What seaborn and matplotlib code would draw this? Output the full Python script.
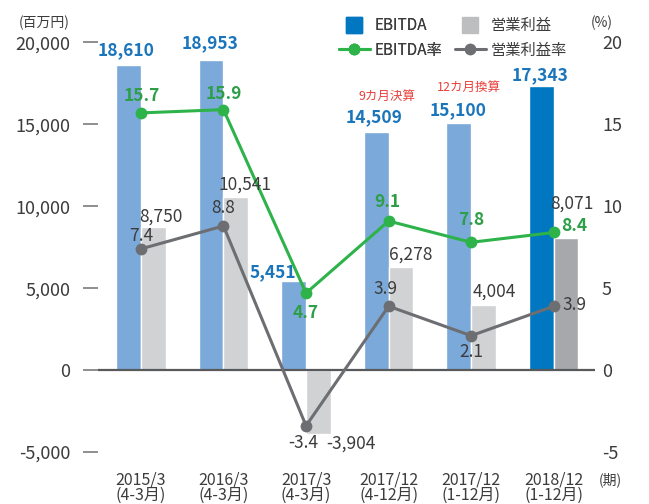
"""EBITDA / operating profit chart with margin lines (twin axis)."""

import matplotlib

matplotlib.use("Agg")
import matplotlib.pyplot as plt
import numpy as np
import pandas as pd
import seaborn as sns
from matplotlib.lines import Line2D

# ---- data -------------------------------------------------------------
periods = [
    "2015/3\n(4-3月)",
    "2016/3\n(4-3月)",
    "2017/3\n(4-3月)",
    "2017/12\n(4-12月)",
    "2017/12\n(1-12月)",
    "2018/12\n(1-12月)",
]
ebitda = [18610, 18953, 5451, 14509, 15100, 17343]
op_profit = [8750, 10541, -3904, 6278, 4004, 8071]
ebitda_rate = [15.7, 15.9, 4.7, 9.1, 7.8, 8.4]
op_rate = [7.4, 8.8, -3.4, 3.9, 2.1, 3.9]
notes = ["", "", "", "9カ月決算", "12カ月換算", ""]
left_ticks = [-5000, 0, 5000, 10000, 15000, 20000]
right_ticks = [-5, 0, 5, 10, 15, 20]

# ---- style ------------------------------------------------------------
BLUE = "#7BA9DA"
BLUE_DARK = "#0077C0"
GRAY = "#D1D2D4"
GRAY_DARK = "#A7A8AC"
GRAY_LEG = "#BDBEC0"
GREEN = "#2DB34A"
LINE_GRAY = "#6D6E71"
TXT = "#3C3C3C"
BLUE_TXT = "#1B75BB"
GREEN_TXT = "#2E9E48"
RED = "#E8413C"

# label offsets in pixels (dx, dy) from the mark
ebitda_off = [(-2, 15), (-1, 16), (-21, 9), (-2, 15), (-1, 13), (-1, 11)]
op_off = [(8, 10), (9, 13), (33, -10), (10, 13), (11, 13), (6, 34)]
green_off = [(1, 17), (0, 16), (0, -20), (-1, 19), (0, 22), (20, 6)]
gray_off = [(0, 13), (0, 18), (-3, -17), (-3, 17), (0, -16), (21, 1)]
note_off = [(11, 36), (10, 35)]

sns.set_style("white")
plt.rcParams["font.family"] = ["Noto Sans CJK JP", "DejaVu Sans"]

W, H = 649, 504
fig = plt.figure(figsize=(W / 100, H / 100), dpi=100)
ax = fig.add_axes([98 / W, 43.8 / H, 497 / W, 442.3 / H])

df = pd.DataFrame(
    {
        "period": periods * 2,
        "metric": ["EBITDA"] * 6 + ["営業利益"] * 6,
        "value": ebitda + op_profit,
    }
)
sns.barplot(
    data=df, x="period", y="value", hue="metric", palette=[BLUE, GRAY],
    width=0.6, saturation=1, errorbar=None, legend=False, ax=ax,
)
ax.containers[0][-1].set_facecolor(BLUE_DARK)
ax.containers[1][-1].set_facecolor(GRAY_DARK)

ax.set_ylim(-5500, 21500)
ax.set_xlim(-0.52, 5.5)
ax.set_yticks(left_ticks)
ax.set_yticklabels([f"{t:,}" for t in left_ticks])
ax.axhline(0, color="#58595B", linewidth=1.6, zorder=3)
ax.set_xlabel("")
ax.set_ylabel("")
ax.tick_params(axis="y", length=11, width=1.2, color="#7A7B7E", pad=9,
               labelsize=13, labelcolor=TXT)
ax.tick_params(axis="x", length=0, pad=8, labelsize=11.5, labelcolor=TXT)
plt.setp(ax.get_xticklabels(), linespacing=0.86)
for s in ax.spines.values():
    s.set_visible(False)

# lines on the % axis
ax2 = ax.twinx()
x_idx = np.arange(len(periods))
sns.lineplot(x=x_idx, y=ebitda_rate, ax=ax2, color=GREEN, linewidth=2.2,
             marker="o", markersize=8.5, markeredgewidth=0)
sns.lineplot(x=x_idx, y=op_rate, ax=ax2, color=LINE_GRAY, linewidth=2.2,
             marker="o", markersize=8.5, markeredgewidth=0)
ax2.set_ylim(-5.5, 21.5)
ax2.set_xlim(-0.52, 5.5)
ax2.set_yticks(right_ticks)
ax2.set_yticklabels([str(t) for t in right_ticks])
ax2.tick_params(axis="y", length=0, pad=5, labelsize=13, labelcolor=TXT)
for s in ax2.spines.values():
    s.set_visible(False)

# bar value labels
bars_e = ax.containers[0]
bars_o = ax.containers[1]
for b, v, (dx, dy) in zip(bars_e, ebitda, ebitda_off):
    ax2.annotate(f"{v:,}", (b.get_x() + b.get_width() / 2, v), xycoords=ax.transData,
                 xytext=(dx, dy), textcoords="offset pixels", ha="center", va="center",
                 fontsize=12.5, fontweight="bold", color=BLUE_TXT)
for b, v, (dx, dy) in zip(bars_o, op_profit, op_off):
    ax2.annotate(f"{v:,}", (b.get_x() + b.get_width() / 2, v), xycoords=ax.transData,
                 xytext=(dx, dy), textcoords="offset pixels", ha="center", va="center",
                 fontsize=12.5, color=TXT)
k = 0
for b, v, note in zip(bars_e, ebitda, notes):
    if note:
        dx, dy = note_off[k]
        k += 1
        ax2.annotate(note, (b.get_x() + b.get_width() / 2, v), xycoords=ax.transData,
                     xytext=(dx, dy), textcoords="offset pixels", ha="center", va="center",
                     fontsize=9, color=RED)

# rate labels
for i, (v, (dx, dy)) in enumerate(zip(ebitda_rate, green_off)):
    ax2.annotate(f"{v:.1f}", (i, v), xytext=(dx, dy), textcoords="offset pixels",
                 ha="center", va="center", fontsize=12.5, fontweight="bold", color=GREEN_TXT)
for i, (v, (dx, dy)) in enumerate(zip(op_rate, gray_off)):
    ax2.annotate(f"{v:.1f}", (i, v), xytext=(dx, dy), textcoords="offset pixels",
                 ha="center", va="center", fontsize=12.5, color=TXT)

# unit texts
fig.text(44 / W, 1 - 23 / H, "(百万円)", ha="center", va="center", fontsize=10, color=TXT)
fig.text(602 / W, 1 - 23 / H, "(%)", ha="center", va="center", fontsize=10, color=TXT)
fig.text(610 / W, 1 - 480 / H, "(期)", ha="center", va="center", fontsize=10, color=TXT)

# legend, two columns placed separately
leg_kw = dict(loc="upper left", frameon=False, borderpad=0, borderaxespad=0,
              handlelength=2.0, handletextpad=0.35, labelspacing=0.5,
              fontsize=11, labelcolor=TXT)
col1 = [
    Line2D([], [], marker="s", markersize=12, color=BLUE_DARK, linestyle="none"),
    Line2D([], [], color=GREEN, linewidth=2.2, marker="o", markersize=8.5, markeredgewidth=0),
]
col2 = [
    Line2D([], [], marker="s", markersize=12, color=GRAY_LEG, linestyle="none"),
    Line2D([], [], color=LINE_GRAY, linewidth=2.2, marker="o", markersize=8.5, markeredgewidth=0),
]
leg1 = fig.legend(col1, ["EBITDA", "EBITDA率"], bbox_to_anchor=(339 / W, 1 - 17 / H), **leg_kw)
fig.legend(col2, ["営業利益", "営業利益率"], bbox_to_anchor=(455 / W, 1 - 17 / H), **leg_kw)
fig.add_artist(leg1)

fig.savefig("out.png", dpi=100)
